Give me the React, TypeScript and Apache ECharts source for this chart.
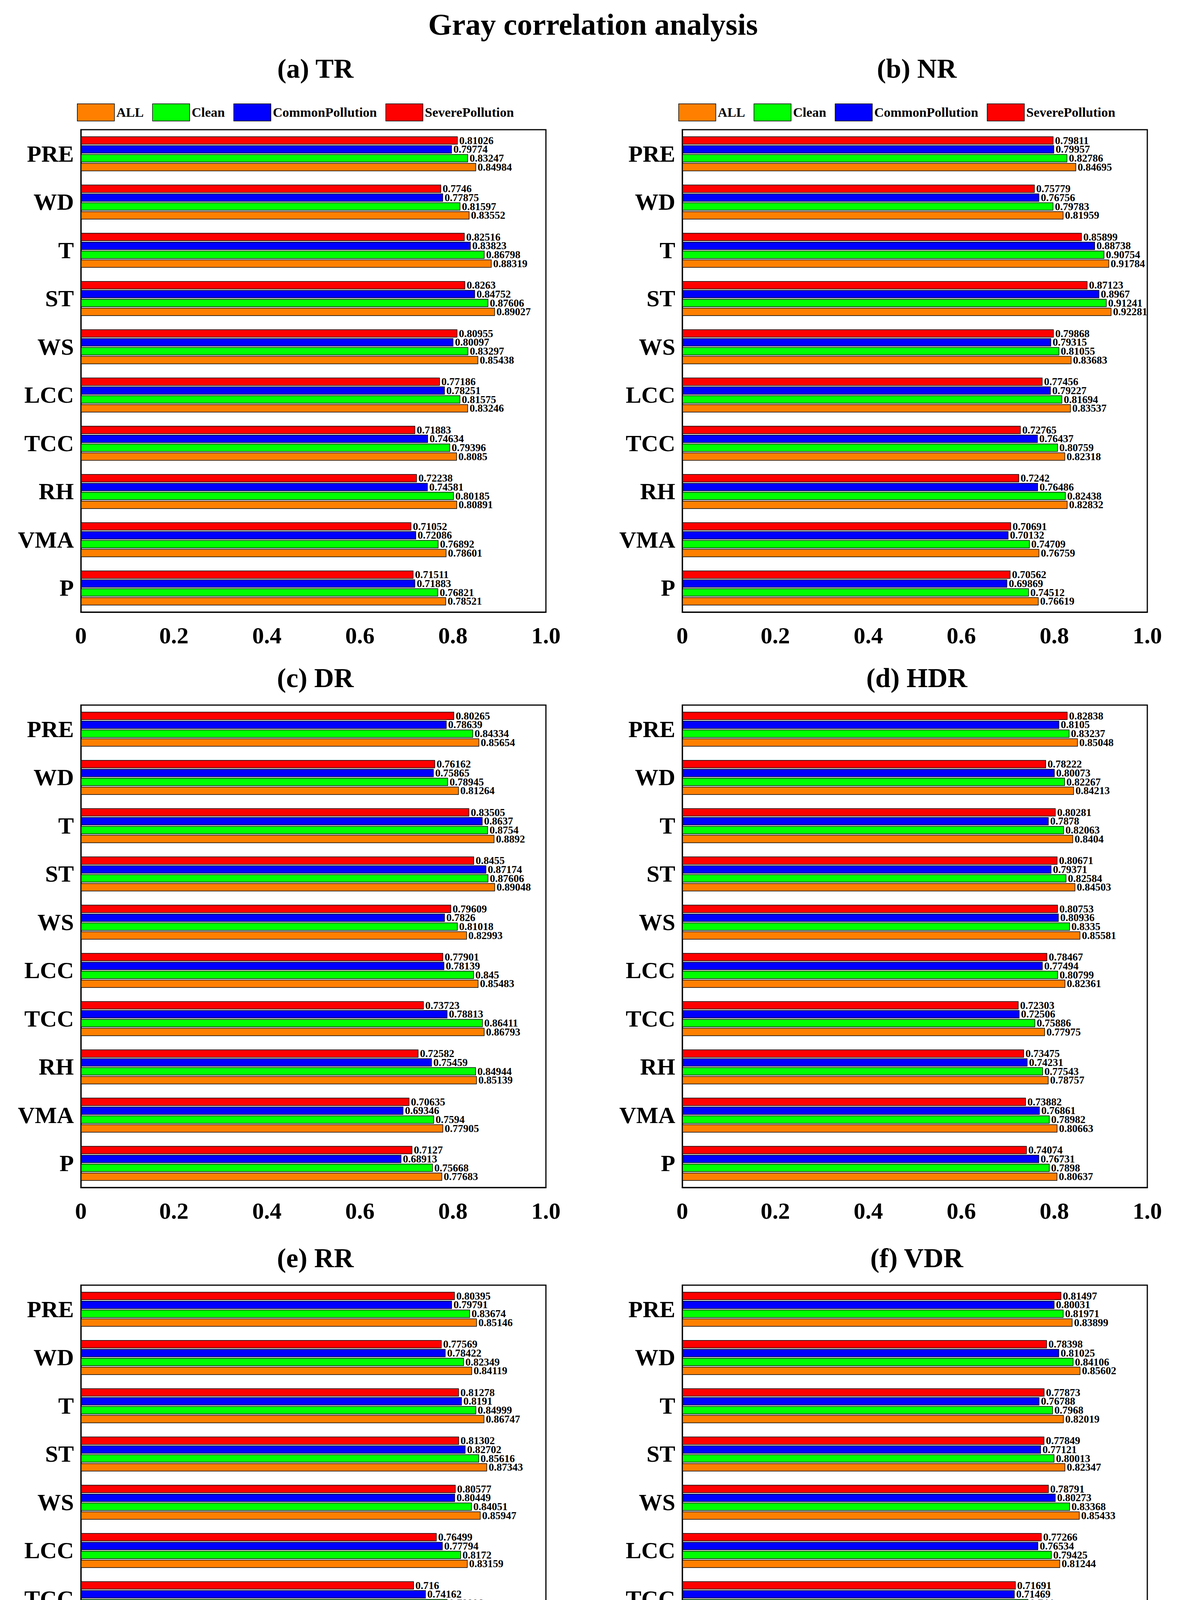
import * as echarts from "echarts";
import { useEffect, useRef } from "react";

const categories = ["PRE", "WD", "T", "ST", "WS", "LCC", "TCC", "RH", "VMA", "P"];
const seriesNames = ["SeverePollution", "CommonPollution", "Clean", "ALL"];
const legendOrder = ["ALL", "Clean", "CommonPollution", "SeverePollution"];
const colors = ["#FF0000", "#0000FF", "#00FF00", "#FF8000"];
const panelTitles = ["(a) TR", "(b) NR", "(c) DR", "(d) HDR", "(e) RR", "(f) VDR"];

// each row: [Severe, Common, Clean, ALL], per category
const trValues = [
  [0.81026, 0.79774, 0.83247, 0.84984], [0.7746, 0.77875, 0.81597, 0.83552],
  [0.82516, 0.83823, 0.86798, 0.88319], [0.8263, 0.84752, 0.87606, 0.89027],
  [0.80955, 0.80097, 0.83297, 0.85438], [0.77186, 0.78251, 0.81575, 0.83246],
  [0.71883, 0.74634, 0.79396, 0.8085], [0.72238, 0.74581, 0.80185, 0.80891],
  [0.71052, 0.72086, 0.76892, 0.78601], [0.71511, 0.71883, 0.76821, 0.78521],
];
const nrValues = [
  [0.79811, 0.79957, 0.82786, 0.84695], [0.75779, 0.76756, 0.79783, 0.81959],
  [0.85899, 0.88738, 0.90754, 0.91784], [0.87123, 0.8967, 0.91241, 0.92281],
  [0.79868, 0.79315, 0.81055, 0.83683], [0.77456, 0.79227, 0.81694, 0.83537],
  [0.72765, 0.76437, 0.80759, 0.82318], [0.7242, 0.76486, 0.82438, 0.82832],
  [0.70691, 0.70132, 0.74709, 0.76759], [0.70562, 0.69869, 0.74512, 0.76619],
];
const drValues = [
  [0.80265, 0.78639, 0.84334, 0.85654], [0.76162, 0.75865, 0.78945, 0.81264],
  [0.83505, 0.8637, 0.8754, 0.8892], [0.8455, 0.87174, 0.87606, 0.89048],
  [0.79609, 0.7826, 0.81018, 0.82993], [0.77901, 0.78139, 0.845, 0.85483],
  [0.73723, 0.78813, 0.86411, 0.86793], [0.72582, 0.75459, 0.84944, 0.85139],
  [0.70635, 0.69346, 0.7594, 0.77905], [0.7127, 0.68913, 0.75668, 0.77683],
];
const hdrValues = [
  [0.82838, 0.8105, 0.83237, 0.85048], [0.78222, 0.80073, 0.82267, 0.84213],
  [0.80281, 0.7878, 0.82063, 0.8404], [0.80671, 0.79371, 0.82584, 0.84503],
  [0.80753, 0.80936, 0.8335, 0.85581], [0.78467, 0.77494, 0.80799, 0.82361],
  [0.72303, 0.72506, 0.75886, 0.77975], [0.73475, 0.74231, 0.77543, 0.78757],
  [0.73882, 0.76861, 0.78982, 0.80663], [0.74074, 0.76731, 0.7898, 0.80637],
];
const rrValues = [
  [0.80395, 0.79791, 0.83674, 0.85146], [0.77569, 0.78422, 0.82349, 0.84119],
  [0.81278, 0.8191, 0.84999, 0.86747], [0.81302, 0.82702, 0.85616, 0.87343],
  [0.80577, 0.80449, 0.84051, 0.85947], [0.76499, 0.77794, 0.8172, 0.83159],
  [0.716, 0.74162, 0.78806, 0.80364], [0.7138, 0.74295, 0.79596, 0.80509],
  [0.71131, 0.72629, 0.77902, 0.79432], [0.71562, 0.7248, 0.77903, 0.79392],
];
const vdrValues = [
  [0.81497, 0.80031, 0.81971, 0.83899], [0.78398, 0.81025, 0.84106, 0.85602],
  [0.77873, 0.76788, 0.7968, 0.82019], [0.77849, 0.77121, 0.80013, 0.82347],
  [0.78791, 0.80273, 0.83368, 0.85433], [0.77266, 0.76534, 0.79425, 0.81244],
  [0.71691, 0.71469, 0.744, 0.76769], [0.73213, 0.73376, 0.76319, 0.77784],
  [0.74521, 0.79037, 0.81395, 0.82694], [0.74767, 0.78829, 0.81591, 0.82828],
];
const panelValues = [trValues, nrValues, drValues, hdrValues, rrValues, vdrValues];

const FONT = "Liberation Serif, Times New Roman, serif";

const App = () => {
  const ref = useRef<HTMLDivElement>(null);

  useEffect(() => {
    document.body.style.margin = "0";
    if (!ref.current) return;
    const chart = echarts.init(ref.current, null, { renderer: "svg" });

    const colLeft = [207, 1746];
    const gridW = 1190;
    const rowTop = [332, 1805, 3290];
    const gridH = 1235;
    const titleY = [135, 1695, 3180];

    const grids: any[] = [];
    const xAxes: any[] = [];
    const yAxes: any[] = [];
    const titles: any[] = [
      {
        text: "Gray correlation analysis",
        left: "center",
        top: 18,
        textStyle: { fontFamily: FONT, fontSize: 78, fontWeight: "bold", color: "#000" },
      },
    ];
    const legends: any[] = [];
    const series: any[] = [];

    panelValues.forEach((vals, p) => {
      const r = Math.floor(p / 2);
      const c = p % 2;
      const left = colLeft[c];
      const top = rowTop[r];
      grids.push({
        left,
        top,
        width: gridW,
        height: gridH,
        show: true,
        borderColor: "#000",
        borderWidth: 3,
      });
      titles.push({
        text: panelTitles[p],
        left: left + gridW / 2,
        textAlign: "center",
        top: titleY[r],
        textStyle: { fontFamily: FONT, fontSize: 70, fontWeight: "bold", color: "#000" },
      });
      if (r === 0) {
        legends.push({
          data: legendOrder,
          left: left - 15,
          top: top - 72,
          icon: "rect",
          itemWidth: 95,
          itemHeight: 44,
          itemGap: 22,
          itemStyle: { borderColor: "#000", borderWidth: 1.5 },
          textStyle: { fontFamily: FONT, fontSize: 34, fontWeight: "bold", color: "#000" },
          selectedMode: false,
        });
      }
      xAxes.push({
        gridIndex: p,
        type: "value",
        min: 0,
        max: 1,
        interval: 0.2,
        axisLine: { show: true, lineStyle: { color: "#000", width: 3 } },
        axisTick: { inside: true, length: 14, lineStyle: { color: "#000", width: 3 } },
        splitLine: { show: false },
        axisLabel: {
          margin: 30,
          fontFamily: FONT,
          fontSize: 60,
          fontWeight: "bold",
          color: "#000",
          formatter: (v: number) => (v === 0 ? "0" : v.toFixed(1)),
        },
      });
      yAxes.push({
        gridIndex: p,
        type: "category",
        data: categories,
        inverse: true,
        axisLine: { show: true, lineStyle: { color: "#000", width: 3 } },
        axisTick: { show: false },
        axisLabel: {
          margin: 18,
          fontFamily: FONT,
          fontSize: 60,
          fontWeight: "bold",
          color: "#000",
        },
      });
      seriesNames.forEach((name, s) => {
        series.push({
          name,
          type: "bar",
          xAxisIndex: p,
          yAxisIndex: p,
          barCategoryGap: "28%",
          barGap: "10%",
          itemStyle: { color: colors[s], borderColor: "#000", borderWidth: 1.5 },
          label: {
            show: true,
            position: "right",
            distance: 4,
            fontFamily: FONT,
            fontSize: 27,
            fontWeight: "bold",
            color: "#000",
            formatter: (d: any) => String(d.value),
          },
          data: vals.map((row) => row[s]),
        });
      });
    });

    chart.setOption({
      animation: false,
      backgroundColor: "#fff",
      color: colors,
      title: titles,
      legend: legends,
      grid: grids,
      xAxis: xAxes,
      yAxis: yAxes,
      series,
    });

    return () => chart.dispose();
  }, []);

  return <div ref={ref} style={{ width: 3035, height: 4641 }} />;
};

export default App;
